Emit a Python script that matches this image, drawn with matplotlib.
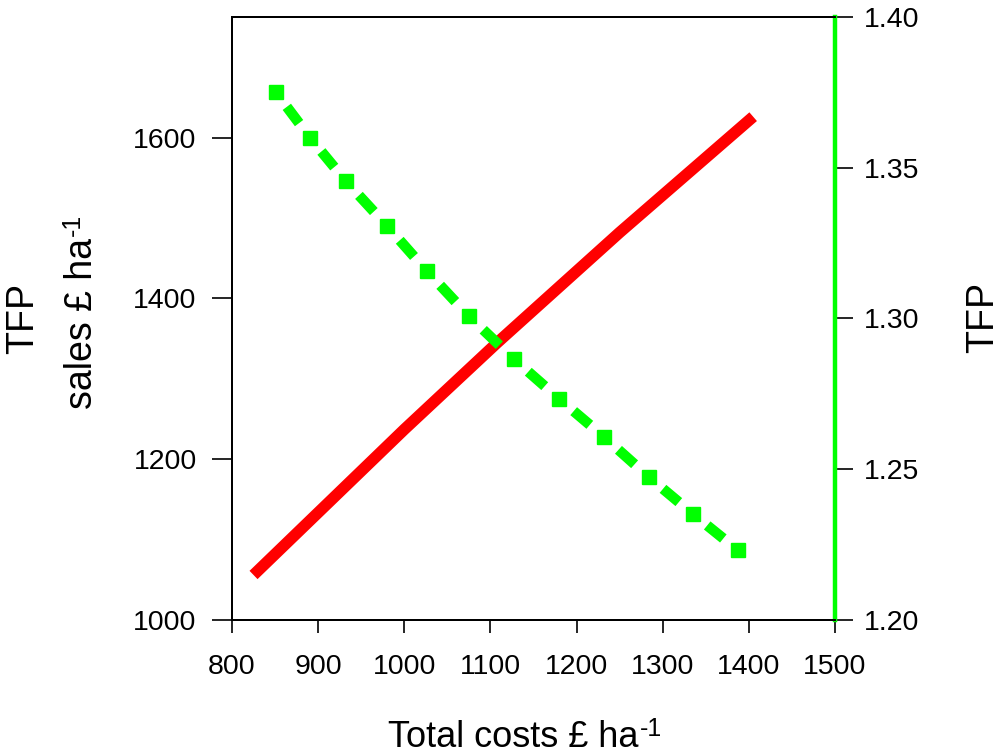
import matplotlib
matplotlib.use("Agg")
import matplotlib.pyplot as plt
import numpy as np
from matplotlib.collections import LineCollection

plt.rcParams["font.family"] = ["Liberation Sans", "DejaVu Sans"]

RED = "#ff0000"
GREEN = "#00ff00"

# red curve: sales vs total costs
sales_costs = [825, 1000, 1108, 1250, 1405]
sales_vals = [1056, 1237, 1345, 1482, 1626]

# green points: TFP vs total costs
tfp_costs = [851, 890.5, 932, 980, 1026, 1075, 1127, 1180, 1232, 1284, 1335, 1387]
tfp_vals = [1.375, 1.360, 1.3456, 1.3307, 1.3158, 1.3008, 1.2866, 1.2733,
            1.2607, 1.2474, 1.2352, 1.2232]

x_ticks = [800, 900, 1000, 1100, 1200, 1300, 1400, 1500]
left_ticks = [1000, 1200, 1400, 1600]
right_ticks = [1.20, 1.25, 1.30, 1.35, 1.40]

LABEL_FS = 26
SUP_FS = 18

fig = plt.figure(figsize=(10, 7.55), dpi=100)
ax = fig.add_axes([0.232, 0.1788, 0.603, 0.7987])
ax2 = ax.twinx()

ax.plot(sales_costs, sales_vals, color=RED, lw=8.3, solid_capstyle="butt", zorder=3)

# green: dashes in the middle of each segment + square markers
xs = np.array(tfp_costs)
ys = np.array(tfp_vals)
segs = []
for i in range(len(xs) - 1):
    t0, t1 = 0.32, 0.68
    segs.append([(xs[i] + t0 * (xs[i + 1] - xs[i]), ys[i] + t0 * (ys[i + 1] - ys[i])),
                 (xs[i] + t1 * (xs[i + 1] - xs[i]), ys[i] + t1 * (ys[i + 1] - ys[i]))])
ax2.add_collection(LineCollection(segs, colors=GREEN, linewidths=7.5,
                                  capstyle="butt", zorder=4))
ax2.plot(xs, ys, ls="none", marker="s", ms=9.4, color=GREEN, mec=GREEN, zorder=5)

ax.set_xlim(800, 1500)
ax.set_ylim(1000, 1750)
ax2.set_ylim(1.20, 1.40)

ax.set_xticks(x_ticks)
ax.set_yticks(left_ticks)
ax2.set_yticks(right_ticks)
ax2.set_yticklabels([f"{v:.2f}" for v in right_ticks])

for s in ["left", "top", "bottom"]:
    ax.spines[s].set_linewidth(1.4)
    ax2.spines[s].set_linewidth(1.4)
ax.spines["right"].set_visible(False)
ax2.spines["right"].set_color(GREEN)
ax2.spines["right"].set_linewidth(3.2)

ax.tick_params(axis="y", direction="out", length=14.4, width=1.2, labelsize=20.5, pad=11)
ax.tick_params(axis="x", direction="out", length=9.4, width=1.2, labelsize=20.5, pad=15)
ax2.tick_params(axis="y", direction="out", length=13, width=1.2, labelsize=20.5, pad=8)

# x label with a raised "-1"
xl = fig.text(0.513, 1 - 747 / 755, "Total costs £ ha", fontsize=LABEL_FS,
              ha="center", va="baseline")
ax.annotate("-1", xy=(1.0, 1.0), xycoords=xl, xytext=(1, 2), textcoords="offset points",
            fontsize=SUP_FS, ha="left", va="top", annotation_clip=False)

# left labels
fig.text(0.033, 0.578, "TFP", fontsize=LABEL_FS + 1, rotation=90,
         rotation_mode="anchor", ha="center", va="baseline")
yl = fig.text(0.092, 0.572, "sales £ ha", fontsize=LABEL_FS + 1, rotation=90,
              rotation_mode="anchor", ha="center", va="baseline")
ax.annotate("-1", xy=(0.0, 1.0), xycoords=yl, xytext=(-2, 1), textcoords="offset points",
            fontsize=SUP_FS, rotation=90, ha="left", va="bottom", annotation_clip=False)

# right label
fig.text(0.993, 0.579, "TFP", fontsize=LABEL_FS + 1, rotation=90,
         rotation_mode="anchor", ha="center", va="baseline")

fig.savefig("out.png", dpi=100, facecolor="white")
